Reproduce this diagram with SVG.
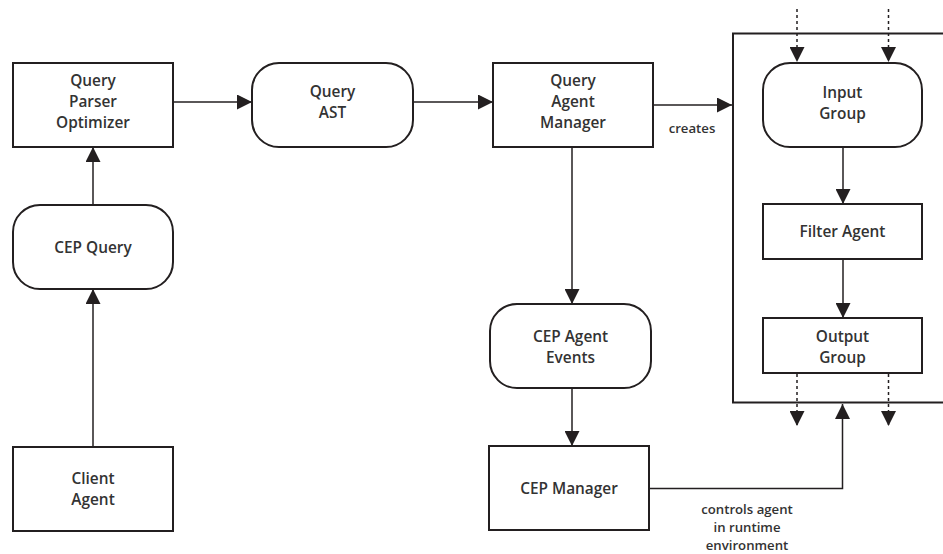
<svg xmlns="http://www.w3.org/2000/svg" width="943" height="554" viewBox="0 0 943 554">
  <style>
    .box { fill: #ffffff; stroke: #231f20; stroke-width: 2; }
    .lbl { font-family: "Open Sans", "Liberation Sans", sans-serif; font-weight: 600; font-size: 15.4px; fill: #333333; text-anchor: middle; }
    .note { font-family: "Open Sans", "Liberation Sans", sans-serif; font-weight: 600; font-size: 13.2px; fill: #333333; text-anchor: middle; }
    .wire { fill: none; stroke: #231f20; stroke-width: 1.5; }
    .dot { fill: none; stroke: #231f20; stroke-width: 1.5; stroke-dasharray: 3 3; }
    .frame { fill: none; stroke: #231f20; stroke-width: 2; }
  </style>
  <defs>
    <marker id="head" viewBox="0 0 15 15" markerWidth="15" markerHeight="15" refX="15" refY="7.5" orient="auto" markerUnits="userSpaceOnUse">
      <path d="M0,0 L15,7.5 L0,15 Z" fill="#231f20"/>
    </marker>
  </defs>

  <rect width="943" height="554" fill="#ffffff"/>

  <!-- runtime container, open at the right edge -->
  <path id="runtime-frame" class="frame" d="M943,33.5 H733 V402.5 H943"/>

  <!-- connectors -->
  <g id="connectors">
    <line class="wire" x1="173" y1="102" x2="252" y2="102" marker-end="url(#head)"/>
    <line class="wire" x1="413" y1="102" x2="493" y2="102" marker-end="url(#head)"/>
    <line class="wire" x1="653" y1="105" x2="732" y2="105" marker-end="url(#head)"/>
    <line class="wire" x1="93" y1="205" x2="93" y2="147" marker-end="url(#head)"/>
    <line class="wire" x1="93" y1="447" x2="93" y2="289" marker-end="url(#head)"/>
    <line class="wire" x1="572" y1="147" x2="572" y2="304" marker-end="url(#head)"/>
    <line class="wire" x1="572" y1="388" x2="572" y2="446" marker-end="url(#head)"/>
    <line class="wire" x1="843" y1="147" x2="843" y2="204" marker-end="url(#head)"/>
    <line class="wire" x1="843" y1="259" x2="843" y2="318" marker-end="url(#head)"/>
    <polyline class="wire" points="649,488.5 842.5,488.5 842.5,404" marker-end="url(#head)"/>
    <line class="dot" x1="797" y1="9" x2="797" y2="62" marker-end="url(#head)"/>
    <line class="dot" x1="888.5" y1="9" x2="888.5" y2="62" marker-end="url(#head)"/>
    <line class="dot" x1="797" y1="374" x2="797" y2="426" marker-end="url(#head)"/>
    <line class="dot" x1="888.5" y1="374" x2="888.5" y2="426" marker-end="url(#head)"/>
    <text class="note" x="692" y="133">creates</text>
    <text class="note" x="747" y="514">controls agent</text>
    <text class="note" x="747" y="532">in runtime</text>
    <text class="note" x="747" y="550">environment</text>
  </g>

  <g id="query-parser-optimizer">
    <rect class="box" x="13" y="63" width="160" height="84"/>
    <text class="lbl" x="93" y="86">Query</text>
    <text class="lbl" x="93" y="107">Parser</text>
    <text class="lbl" x="93" y="128">Optimizer</text>
  </g>

  <g id="query-ast">
    <rect class="box" x="252" y="63" width="161" height="84" rx="27"/>
    <text class="lbl" x="332.5" y="96.5">Query</text>
    <text class="lbl" x="332.5" y="117.5">AST</text>
  </g>

  <g id="query-agent-manager">
    <rect class="box" x="493" y="63" width="160" height="84"/>
    <text class="lbl" x="573" y="86">Query</text>
    <text class="lbl" x="573" y="107">Agent</text>
    <text class="lbl" x="573" y="128">Manager</text>
  </g>

  <g id="cep-query">
    <rect class="box" x="13" y="205" width="160" height="84" rx="27"/>
    <text class="lbl" x="93" y="253">CEP Query</text>
  </g>

  <g id="client-agent">
    <rect class="box" x="13" y="447" width="160" height="84"/>
    <text class="lbl" x="93" y="483.5">Client</text>
    <text class="lbl" x="93" y="504.5">Agent</text>
  </g>

  <g id="cep-agent-events">
    <rect class="box" x="490" y="304" width="161" height="84" rx="27"/>
    <text class="lbl" x="570.5" y="341.5">CEP Agent</text>
    <text class="lbl" x="570.5" y="362.5">Events</text>
  </g>

  <g id="cep-manager">
    <rect class="box" x="489" y="446" width="160" height="84"/>
    <text class="lbl" x="569" y="494">CEP Manager</text>
  </g>

  <g id="input-group">
    <rect class="box" x="763" y="63" width="159" height="84" rx="27"/>
    <text class="lbl" x="842.5" y="97.5">Input</text>
    <text class="lbl" x="842.5" y="118.5">Group</text>
  </g>

  <g id="filter-agent">
    <rect class="box" x="763" y="204" width="159" height="55"/>
    <text class="lbl" x="842.5" y="237">Filter Agent</text>
  </g>

  <g id="output-group">
    <rect class="box" x="763" y="318" width="159" height="55"/>
    <text class="lbl" x="842.5" y="341.5">Output</text>
    <text class="lbl" x="842.5" y="362.5">Group</text>
  </g>
</svg>
